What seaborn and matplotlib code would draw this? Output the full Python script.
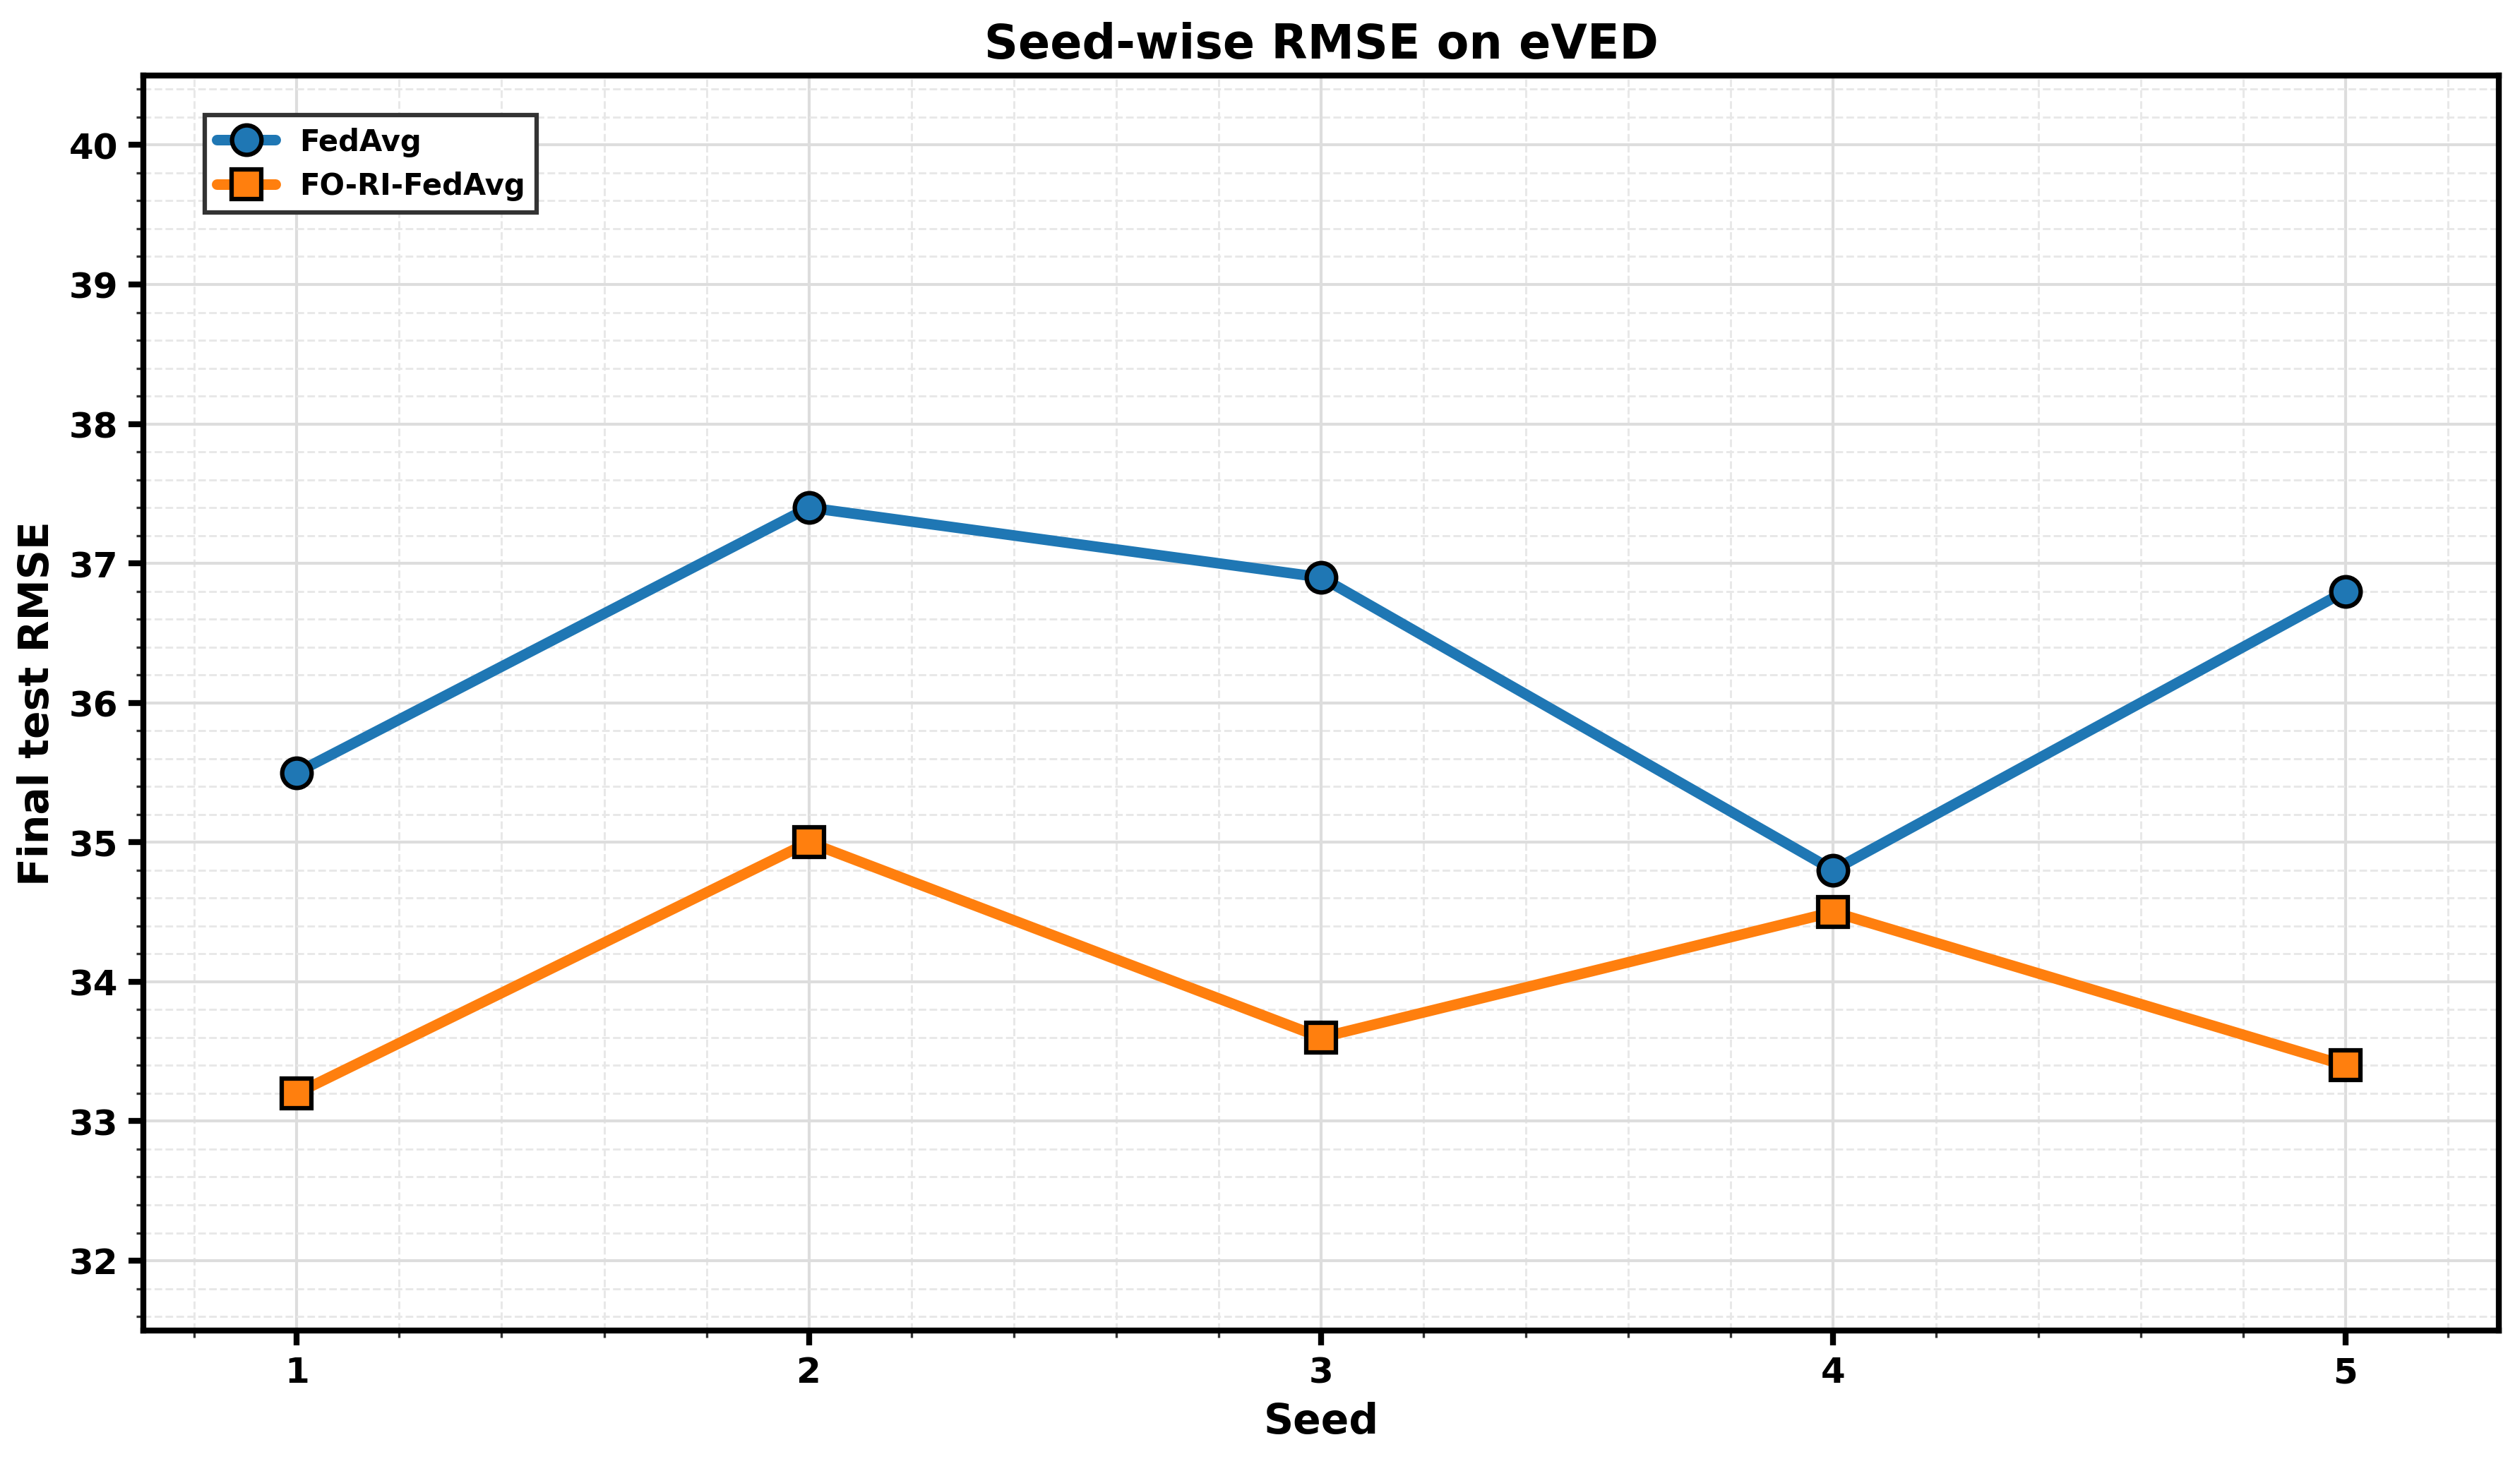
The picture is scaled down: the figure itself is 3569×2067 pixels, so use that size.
import matplotlib
matplotlib.use("Agg")
import matplotlib.pyplot as plt
import seaborn as sns
import pandas as pd
from matplotlib.ticker import AutoMinorLocator

seeds = [1, 2, 3, 4, 5]
fedavg = [35.5, 37.4, 36.9, 34.8, 36.8]
fori = [33.2, 35.0, 33.6, 34.5, 33.4]
methods = ["FedAvg", "FO-RI-FedAvg"]
colors = ["#1f77b4", "#ff7f0e"]
markers = ["o", "s"]

sns.set_theme(style="ticks")
plt.rcParams['font.family'] = ['DejaVu Sans']
plt.rcParams['font.weight'] = 'bold'
plt.rcParams['text.color'] = 'black'
plt.rcParams['axes.labelcolor'] = 'black'
plt.rcParams['xtick.color'] = 'black'
plt.rcParams['ytick.color'] = 'black'

df = pd.DataFrame({
    "Seed": seeds * 2,
    "RMSE": fedavg + fori,
    "Method": [methods[0]] * len(seeds) + [methods[1]] * len(seeds),
})

fig = plt.figure(figsize=(11.897, 6.893), dpi=300)
ax = fig.add_axes([0.0568, 0.0881, 0.9917 - 0.0568, 0.948 - 0.0881])

for m, c, mk in zip(methods, colors, markers):
    sub = df[df["Method"] == m]
    sns.lineplot(data=sub, x="Seed", y="RMSE", ax=ax, color=c, marker=mk,
                 markersize=10, markeredgecolor="black", markeredgewidth=1.5,
                 linewidth=3.6, label=m, zorder=3)

ax.set_xlim(0.7, 5.3)
ax.set_ylim(31.5, 40.5)
ax.set_xticks(seeds)
ax.set_yticks(range(32, 41))
ax.xaxis.set_minor_locator(AutoMinorLocator(5))
ax.yaxis.set_minor_locator(AutoMinorLocator(5))

ax.grid(which="major", color="#dddddd", linewidth=1.0, linestyle="-", zorder=0)
ax.grid(which="minor", color="#e8e8e8", linewidth=0.7, linestyle="--", zorder=0)
ax.set_axisbelow(True)

for s in ax.spines.values():
    s.set_linewidth(2)
    s.set_color("black")
    s.set_visible(True)

ax.tick_params(which="major", direction="out", length=5, width=2, labelsize=12,
               color="black", labelcolor="black")
ax.tick_params(which="minor", direction="out", length=2.5, width=0.8, color="#333333")
for lbl in ax.get_xticklabels() + ax.get_yticklabels():
    lbl.set_fontweight("bold")

ax.set_xlabel("Seed", fontsize=14, fontweight="bold", color="black")
ax.set_ylabel("Final test RMSE", fontsize=14, fontweight="bold", color="black")
ax.set_title("Seed-wise RMSE on eVED", fontsize=16, fontweight="bold", color="black")

leg = ax.legend(loc="upper left", bbox_to_anchor=(0.02, 0.98), fontsize=10,
                frameon=True, fancybox=False, framealpha=1.0, edgecolor="#333333")
leg.get_frame().set_linewidth(1.5)
for t in leg.get_texts():
    t.set_fontweight("bold")
    t.set_color("black")

fig.savefig("out.png", dpi=300)
